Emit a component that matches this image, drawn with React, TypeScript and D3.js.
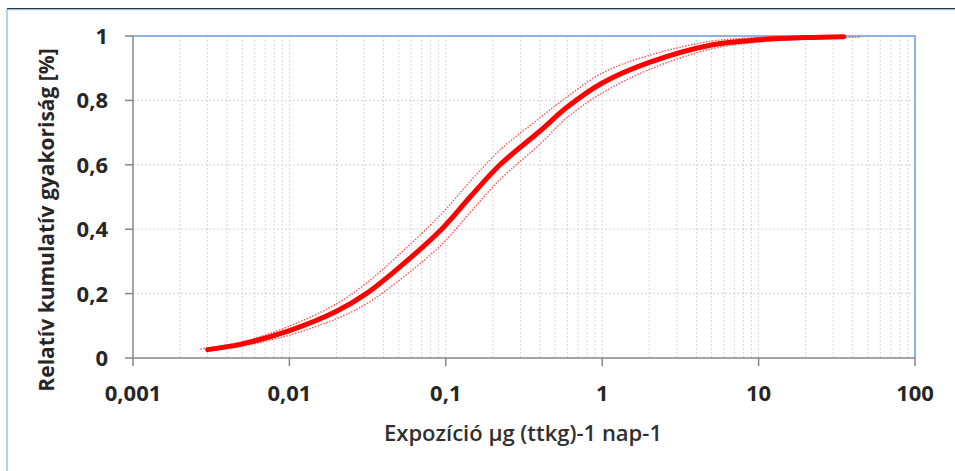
import React from "react";
import * as d3 from "d3";

// exposure (µg / ttkg / day) and relative cumulative frequency
const expo = [0.003, 0.005, 0.01, 0.02, 0.031, 0.05, 0.094, 0.143, 0.222, 0.4, 0.6, 1.0, 2.0, 5.0, 10, 20, 35];
const pMain = [0.026, 0.044, 0.085, 0.145, 0.2, 0.28, 0.4, 0.5, 0.6, 0.705, 0.78, 0.854, 0.918, 0.972, 0.988, 0.995, 0.998];

const upperExpo = [0.0027, 0.005, 0.01, 0.02, 0.031, 0.05, 0.094, 0.143, 0.222, 0.4, 0.6, 1.0, 2.0, 5.0, 10, 20, 30];
const pUpper = [0.028, 0.05, 0.099, 0.168, 0.232, 0.32, 0.448, 0.548, 0.646, 0.746, 0.812, 0.885, 0.94, 0.984, 0.995, 0.998, 1.0];

const lowerExpo = [0.0031, 0.005, 0.01, 0.02, 0.031, 0.05, 0.094, 0.143, 0.222, 0.4, 0.6, 1.0, 2.0, 5.0, 10, 20, 45];
const pLower = [0.022, 0.037, 0.071, 0.122, 0.168, 0.24, 0.352, 0.452, 0.554, 0.664, 0.748, 0.823, 0.896, 0.96, 0.981, 0.991, 0.997];

const xTicks = [0.001, 0.01, 0.1, 1, 10, 100];
const xTickLabels = ["0,001", "0,01", "0,1", "1", "10", "100"];
const yTicks = [0, 0.2, 0.4, 0.6, 0.8, 1];
const yTickLabels = ["0", "0,2", "0,4", "0,6", "0,8", "1"];

const xTitle = "Expozíció µg (ttkg)-1 nap-1";
const yTitle = "Relatív kumulatív gyakoriság [%]";

const W = 955, H = 471;
const left = 133, right = 915, top = 36, bottom = 358;
const font = "'Open Sans', sans-serif";

export default function App() {
  const x = d3.scaleLog().domain([0.001, 100]).range([left, right]);
  const y = d3.scaleLinear().domain([0, 1]).range([bottom, top]);

  const line = d3.line<[number, number]>()
    .x(d => x(d[0]))
    .y(d => y(d[1]))
    .curve(d3.curveCatmullRom.alpha(0.5));

  const mainPts = expo.map((e, i) => [e, pMain[i]] as [number, number]);
  const upPts = upperExpo.map((e, i) => [e, pUpper[i]] as [number, number]);
  const loPts = lowerExpo.map((e, i) => [e, pLower[i]] as [number, number]);

  // minor gridlines 1..9 per decade
  const gridX: number[] = [];
  for (let dec = 0; dec < xTicks.length - 1; dec++) {
    for (let k = 1; k <= 9; k++) gridX.push(xTicks[dec] * k);
  }

  return (
    <svg width={W} height={H} style={{ position: "absolute", left: 0, top: 0, background: "#fff" }}>
      {/* outer frame */}
      <line x1={7} x2={7} y1={9} y2={H} stroke="#9dc3e6" strokeWidth={1.5} />
      <line x1={7} x2={W} y1={9.5} y2={9.5} stroke="#9dc3e6" strokeWidth={1.5} />
      <line x1={7} x2={W} y1={8.5} y2={8.5} stroke="#333" strokeWidth={1} />

      {/* grid */}
      {gridX.slice(1).map((g, i) => (
        <line key={"gx" + i} x1={x(g)} x2={x(g)} y1={top} y2={bottom}
          stroke="#d6d6d6" strokeWidth={1} strokeDasharray="2 2" />
      ))}
      {yTicks.slice(1, -1).map((t, i) => (
        <line key={"gy" + i} x1={left} x2={right} y1={y(t)} y2={y(t)}
          stroke="#d6d6d6" strokeWidth={1} strokeDasharray="2 2" />
      ))}

      {/* plot border top/right */}
      <path d={`M${left},${top}H${right}V${bottom}`} fill="none" stroke="#8db3e2" strokeWidth={2} />

      {/* confidence lines */}
      <path d={line(upPts) || ""} fill="none" stroke="#ff2a2a" strokeWidth={1.4} strokeDasharray="1.5 1.5" opacity={0.8} />
      <path d={line(loPts) || ""} fill="none" stroke="#ff2a2a" strokeWidth={1.4} strokeDasharray="1.5 1.5" opacity={0.8} />
      {/* main curve */}
      <path d={line(mainPts) || ""} fill="none" stroke="#ff0000" strokeWidth={5} strokeLinecap="round" />

      {/* axes */}
      <line x1={left} x2={left} y1={top} y2={bottom} stroke="#868686" strokeWidth={1.5} />
      <line x1={left} x2={right} y1={bottom} y2={bottom} stroke="#868686" strokeWidth={1.5} />
      {yTicks.map((t, i) => (
        <g key={"yt" + i}>
          <line x1={left - 8} x2={left} y1={y(t)} y2={y(t)} stroke="#868686" strokeWidth={1.5} />
          <text x={108} y={y(t)} dy="0.36em" textAnchor="end" fontFamily={font}
            fontWeight="bold" fontSize={22} fill="#262626">{yTickLabels[i]}</text>
        </g>
      ))}
      {xTicks.map((t, i) => (
        <g key={"xt" + i}>
          <line x1={x(t)} x2={x(t)} y1={bottom} y2={bottom + 8} stroke="#868686" strokeWidth={1.5} />
          <text x={x(t)} y={401} textAnchor="middle" fontFamily={font}
            fontWeight="bold" fontSize={22} fill="#262626">{xTickLabels[i]}</text>
        </g>
      ))}

      {/* titles */}
      <text x={(left + right) / 2 - 1} y={441} textAnchor="middle" fontFamily={font}
        fontWeight={600} fontSize={22} fill="#303030">{xTitle}</text>
      <text transform={`translate(54,220) rotate(-90)`} textAnchor="middle" fontFamily={font}
        fontWeight="bold" fontSize={21} fill="#262626">{yTitle}</text>
    </svg>
  );
}
